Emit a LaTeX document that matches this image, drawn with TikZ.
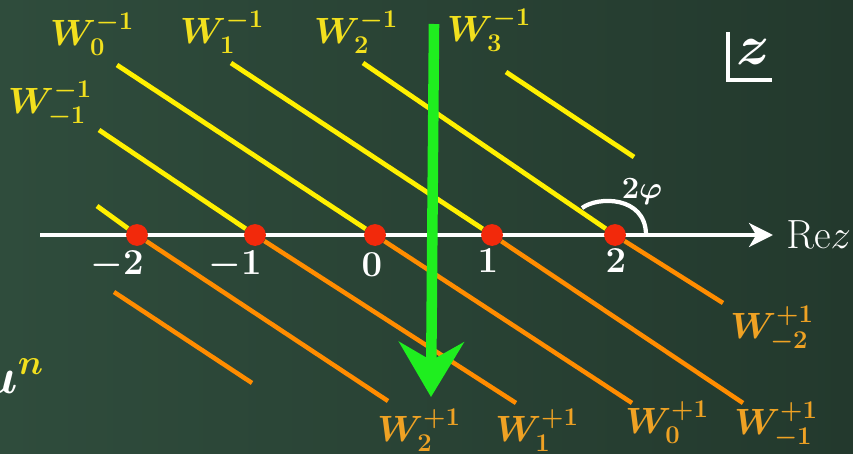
\RequirePackage{fix-cm}
\documentclass[tikz,border=0pt]{standalone}
\usepackage{amsmath,amssymb,bm}
\usetikzlibrary{arrows.meta}
\definecolor{board}{HTML}{2F4C3C}
\definecolor{boarddark}{HTML}{23392D}
\definecolor{chalkyellow}{HTML}{FFF000}
\definecolor{labyellow}{HTML}{F2E01E}
\definecolor{chalkorange}{HTML}{FF8C00}
\definecolor{laborange}{HTML}{EFA224}
\definecolor{dotred}{HTML}{F2290B}
\definecolor{chalkgreen}{HTML}{1FEE1F}
\tikzset{
  axis/.style={line width=2.8pt,white,-{Stealth[length=17pt,width=17pt,inset=5pt]}},
  upline/.style={line width=3.4pt,chalkyellow},
  downline/.style={line width=3.2pt,chalkorange},
  site/.style={circle,fill=dotred,minimum size=15.5pt,inner sep=0},
  lab/.style={font=\fontsize{26}{30}\selectfont},
  num/.style={lab,text=white},
  ylab/.style={lab,text=labyellow},
  olab/.style={lab,text=laborange},
  % the descent direction, drawn like a chalk stroke
  flow/.style={line width=7.5pt,chalkgreen,-{Stealth[length=39pt,width=46pt,inset=13pt]}},
}

\begin{document}
\begin{tikzpicture}[x=0.025cm,y=-0.025cm]
  \useasboundingbox (0,0) rectangle (853,453);
  \shade[left color=board,right color=boarddark] (0,0) rectangle (853,453);
  % real axis with the lattice points on it
  \coordinate (A0) at (40,235);
  \coordinate (A1) at (773,235);
  \draw[axis] (A0) -- (A1);
  \node[num,anchor=west,inner sep=0,font=\fontsize{29}{32}\selectfont] (rez) at (786,235) {$\mathrm{Re}z$};
  \node[site] (pm2) at (137,235) {};
  \node[site] (pm1) at (255,235) {};
  \node[site] (p0)  at (375,235) {};
  \node[site] (p1)  at (492,235) {};
  \node[site] (p2)  at (615,235) {};
  \node[num] at (117,265) {$\bm{-2}$};
  \node[num] at (235,265) {$\bm{-1}$};
  \node[num] at (372,265) {$\bm{0}$};
  \node[num] at (488,261) {$\bm{1}$};
  \node[num] at (616,261) {$\bm{2}$};
  % W^{-1} lines come in from the upper left
  \coordinate (ym2) at (97,206);
  \coordinate (ym1) at (99,130);
  \coordinate (y0)  at (117,65);
  \coordinate (y1)  at (231,63);
  \coordinate (y2)  at (363,63);
  \coordinate (y3a) at (506,72);
  \coordinate (y3b) at (634,157);
  \draw[upline] (ym2) -- (pm2);
  \draw[upline] (ym1) -- (pm1);
  \draw[upline] (y0) -- (p0);
  \draw[upline] (y1) -- (p1);
  \draw[upline] (y2) -- (p2);
  \draw[upline] (y3a) -- (y3b);
  % W^{+1} lines leave to the lower right
  \coordinate (om3a) at (114,292);
  \coordinate (om3b) at (252,383);
  \coordinate (om2) at (388,401);
  \coordinate (om1) at (516,403);
  \coordinate (o0)  at (632,403);
  \coordinate (o1)  at (743,403);
  \coordinate (o2)  at (723,303);
  \draw[downline] (om3a) -- (om3b);
  \draw[downline] (pm2) -- (om2);
  \draw[downline] (pm1) -- (om1);
  \draw[downline] (p0) -- (o0);
  \draw[downline] (p1) -- (o1);
  \draw[downline] (p2) -- (o2);
  \node[ylab] at (92,34)  {$\bm{W_0^{-1}}$};
  \node[ylab] at (222,32) {$\bm{W_1^{-1}}$};
  \node[ylab] at (356,32) {$\bm{W_2^{-1}}$};
  \node[ylab] at (489,30) {$\bm{W_3^{-1}}$};
  \node[ylab] at (50,104) {$\bm{W_{-1}^{-1}}$};
  \node[olab] at (772,329) {$\bm{W_{-2}^{+1}}$};
  \node[olab] at (776,425) {$\bm{W_{-1}^{+1}}$};
  \node[olab] at (667,422) {$\bm{W_0^{+1}}$};
  \node[olab] at (537,430) {$\bm{W_1^{+1}}$};
  \node[olab] at (419,430) {$\bm{W_2^{+1}}$};
  % angle between the axis and the lines
  \draw[white,line width=3pt] (646,234) .. controls (645,196) and (598,196) .. (582,208);
  \node[num,font=\fontsize{22}{26}\selectfont] at (642,192) {$\bm{2\varphi}$};
  % z-plane mark
  \draw[white,line width=2.8pt] (728,32) |- (772,80);
  \node[num,font=\fontsize{40}{44}\selectfont] (zmark) at (753,52) {$\bm{z}$};
  \node[num,anchor=base east,inner sep=0,font=\fontsize{36}{40}\selectfont] (un) at (44,393) {$\bm{u}^{\textcolor{labyellow}{\bm{n}}}$};
  % green stroke
  \coordinate (gtop) at (434,24);
  \coordinate (gbot) at (431,397);
  \draw[flow] (gtop) -- (gbot);
\end{tikzpicture}
\end{document}
